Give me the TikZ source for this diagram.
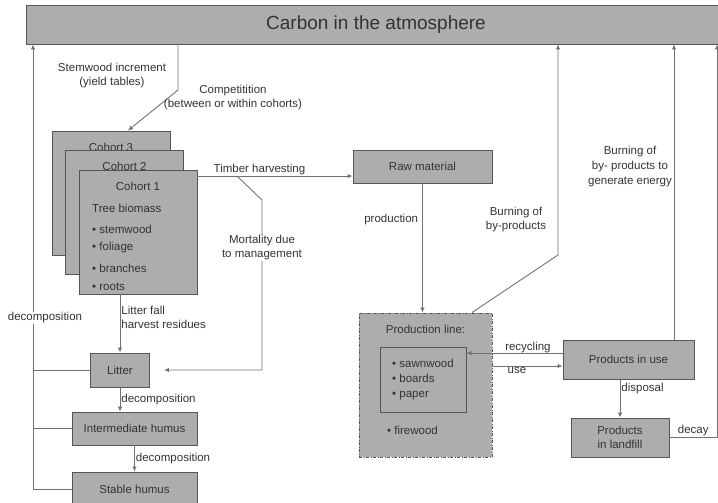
\documentclass[tikz,border=0pt]{standalone}
\usepackage{fontspec}
\setmainfont{Liberation Sans}
\usetikzlibrary{arrows.meta}
\definecolor{boxgray}{HTML}{ADADAF}
\definecolor{linegray}{HTML}{727272}
\definecolor{edgegray}{HTML}{555555}
\definecolor{txtgray}{HTML}{333333}

\begin{document}
\begin{tikzpicture}[x=1pt,y=-1pt,
    font=\fontsize{11.5}{14}\selectfont, text=txtgray,
    box/.style={draw=edgegray, fill=boxgray, line width=0.9pt, inner sep=2pt, align=center},
    conn/.style={draw=linegray, line width=0.9pt},
    arr/.style={conn, -{Latex[length=5pt,width=4.5pt]}},
    lbl/.style={align=center, inner sep=1pt},
    cut/.style={lbl, fill=white}]
\useasboundingbox (0,0) rectangle (718,503);
\clip (0,0) rectangle (718,503);

% Draw atmosphere
\node[box, minimum width=700pt, minimum height=39pt, font=\fontsize{19}{22}\selectfont] (atmo) at (376,24.5) {Carbon in the atmosphere};

% Draw cohorts
\foreach \i/\cx/\cy in {3/111/193, 2/124.5/212.5, 1/138/232} {
    \node[box, minimum width=118pt, minimum height=124pt] (c\i) at (\cx,\cy) {};
    \node[lbl, anchor=north] (c\i lbl) at ([yshift=-11pt]c\i.north) {Cohort \i};
}
\node[lbl, anchor=west] (tree) at (91,208) {Tree biomass};
\foreach \n/\y/\t in {1/229/stemwood, 2/248/foliage, 3/268/branches, 4/287/roots} {
    \node[lbl, anchor=west] (b\n) at (91,\y) {\textbullet\ \t};
}

% Stemwood increment
\coordinate (sbend) at (178,90);
\draw[arr] (sbend |- atmo.south) -- (sbend) -- ([xshift=17pt]c3.north);
\node[lbl] (stemlbl) at (112,76) {Stemwood increment\\(yield tables)};
\node[lbl] (complbl) at (233,98) {Competitition\\(between or within cohorts)};

% Soil pools
\node[box, minimum width=59pt, minimum height=34pt] (litter) at (120,370) {Litter};
\node[box, minimum width=125pt, minimum height=33pt] (inter) at (134.5,428.5) {Intermediate humus};
\node[box, minimum width=125pt, minimum height=34pt] (stable) at (134.5,489) {Stable humus};

\draw[arr] (c1.south -| litter.north) -- (litter.north)
    node[lbl, pos=0.4, right, align=left] {Litter fall\\harvest residues};
\draw[arr] (litter.south) -- (litter.south |- inter.north)
    node[lbl, midway, right] {decomposition};
\draw[arr] (inter.south) -- (stable.north)
    node[lbl, midway, right] {decomposition};

% Decomposition back to the atmosphere
\coordinate (decx) at (33,0);
\draw[arr] (stable.west) -| (decx |- atmo.south);
\draw[conn] (litter.west) -- (litter.west -| decx);
\draw[conn] (inter.west) -- (inter.west -| decx);
\node[cut] (declbl) at (45,318) {decomposition};

% Harvesting
\node[box, minimum width=139pt, minimum height=33pt] (raw) at (422.5,166.5) {Raw material};
\coordinate (th) at ([yshift=-6.5pt]c1.north east);
\draw[arr] (th) -- (th -| raw.west) node[lbl, pos=0.4, above] {Timber harvesting};
\coordinate (mtop) at (237,0);
\coordinate (mbend) at (262,200);
\coordinate (mend) at ([xshift=14pt]litter.east);
\draw[arr] (th -| mtop) -- (mbend) -- (mbend |- mend) -- (mend);
\node[cut] (mortlbl) at (262,248) {Mortality due\\to management};

% Production line
\node[box, dash pattern=on 3pt off 1.5pt on 1pt off 1.5pt, minimum width=133pt, minimum height=144pt] (prod) at (425.5,385) {};
\node[lbl, anchor=north] (prodlbl) at ([yshift=-11pt]prod.north) {Production line:};
\node[box, minimum width=86pt, minimum height=65pt, align=left, font=\fontsize{11.5}{15}\selectfont] (inner) at (423,379.5)
    {\textbullet\ sawnwood\\\textbullet\ boards\\\textbullet\ paper};
\node[lbl, anchor=west] (fire) at (386,430) {\textbullet\ firewood};
\draw[arr] (raw.south) -- (raw.south |- prod.north)
    node[lbl, pos=0.28, left, xshift=-3pt] {production};

% Burning of by-products
\coordinate (bbend) at (558,255);
\draw[arr] ([xshift=46.5pt]prod.north) -- (bbend) -- (bbend |- atmo.south);
\node[lbl] (burn1lbl) at (516,220) {Burning of\\by-products};

% Products
\node[box, minimum width=131pt, minimum height=39pt] (use) at (628.5,359.5) {Products in use};
\node[box, minimum width=98pt, minimum height=39pt] (land) at (620,437.5) {Products\\in landfill};
\coordinate (recy) at ([yshift=6.5pt]use.west);
\coordinate (usein) at ([yshift=-6.5pt]use.west);
\draw[arr] (recy) -- (recy -| inner.east) node[lbl, pos=0.36, above, inner sep=0pt] {recycling};
\draw[arr] (usein -| prod.east) -- (usein) node[lbl, pos=0.35, below] {use};
\draw[arr] (use.south -| land.north) -- (land.north) node[lbl, pos=0.25, right] {disposal};

% Energy and decay
\coordinate (eng) at ([xshift=45.5pt]use.north);
\draw[arr] (eng) -- (eng |- atmo.south);
\node[lbl, font=\fontsize{11.5}{15}\selectfont] (burn2lbl) at (630,167) {Burning of\\by- products to\\generate energy};
\coordinate (dend) at (717,0);
\draw[arr] (land.east) -- (land.east -| dend) node[lbl, midway, above] {decay} -- (dend |- atmo.south);
\end{tikzpicture}
\end{document}
